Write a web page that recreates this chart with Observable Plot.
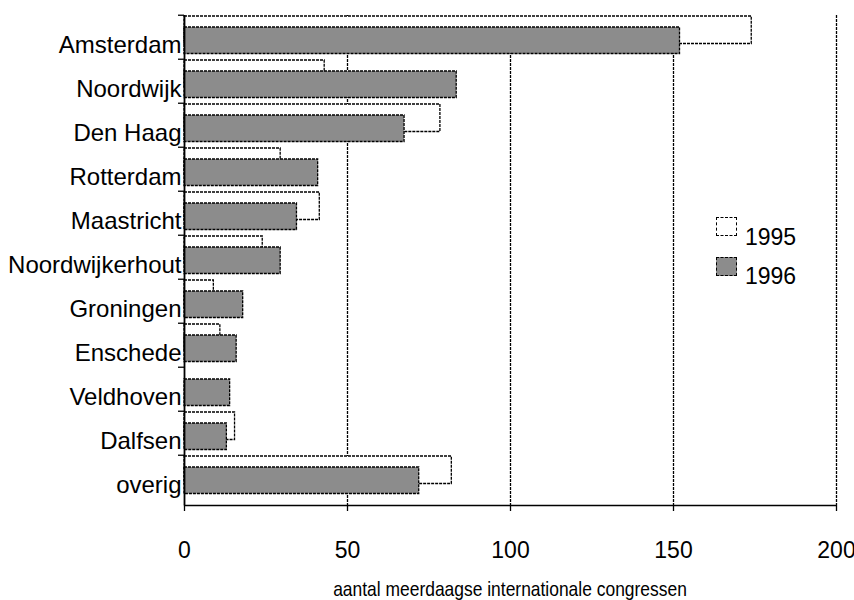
<!DOCTYPE html>
<html>
<head>
<meta charset="utf-8">
<script src="https://cdn.jsdelivr.net/npm/d3@7"></script>
<script src="https://cdn.jsdelivr.net/npm/@observablehq/plot@0.6"></script>
<style>
  html, body { margin: 0; padding: 0; background: #fff; overflow: hidden; }
  #wrap { position: relative; width: 854px; height: 600px; font-family: "Liberation Sans", Arial, sans-serif; color: #000; }
  #wrap svg { position: absolute; left: 0; top: 0; }
  .lg-box { position: absolute; width: 19px; height: 17px; border: 1.3px dashed #000; box-sizing: content-box; }
  .lg-text { position: absolute; font-size: 23px; line-height: 23px; }
  #title { position: absolute; left: 0; width: 1020px; text-align: center; font-size: 21px; line-height: 21px; top: 577.5px; white-space: nowrap; transform: scaleX(0.83); transform-origin: 510px 0; }
</style>
</head>
<body>
<div id="wrap"></div>
<script>
const cities = ["Amsterdam","Noordwijk","Den Haag","Rotterdam","Maastricht","Noordwijkerhout","Groningen","Enschede","Veldhoven","Dalfsen","overig"];
const v1995 = [174, 43, 78.5, 29.5, 41.5, 24, 9, 11, 0, 15.5, 82];
const v1996 = [152, 83.5, 67.5, 41, 34.5, 29.5, 18, 16, 14, 13, 72];
const xTicks = [0, 50, 100, 150, 200];
const years = ["1995", "1996"];
const axisTitle = "aantal meerdaagse internationale congressen";

const d95 = cities.map((c, i) => ({city: c, value: v1995[i]}));
const d96 = cities.map((c, i) => ({city: c, value: v1996[i]}));

const W = 854, H = 600, mt = 15, mb = 95;
const band = (H - mt - mb) / cities.length;
const dash = "3,1";
const sw = 1.3;

const chart = Plot.plot({
  width: W,
  height: H,
  marginLeft: 184,
  marginRight: 18,
  marginTop: mt,
  marginBottom: mb,
  style: {fontFamily: '"Liberation Sans", Arial, sans-serif', color: "#000", background: "#fff", overflow: "visible"},
  x: {domain: [0, 200], ticks: xTicks},
  y: {domain: cities, padding: 0, align: 0},
  marks: [
    Plot.gridX(xTicks.slice(1), {stroke: "#000", strokeOpacity: 1, strokeWidth: sw, strokeDasharray: dash}),
    Plot.barX(d95, {x: "value", y: "city", fill: "#fff", stroke: "#000", strokeWidth: sw, strokeDasharray: dash, insetTop: 1, insetBottom: 15.5}),
    Plot.barX(d96, {x: "value", y: "city", fill: "#8c8c8c", stroke: "#000", strokeWidth: sw, strokeDasharray: dash, insetTop: 12, insetBottom: 5.5}),
    Plot.ruleX([0], {stroke: "#000", strokeWidth: 1.8}),
    Plot.frame({anchor: "bottom", stroke: "#000", strokeWidth: sw, strokeDasharray: dash}),
    Plot.axisX(xTicks, {tickSize: 6, tickPadding: 30, fontSize: 23, label: null, stroke: "#000", strokeWidth: sw}),
    Plot.axisY({tickSize: 6, text: null, dy: -band / 2, stroke: "#000", strokeWidth: sw, label: null}),
    Plot.axisY({tickSize: 0, tickPadding: 3, fontSize: 24, dy: 8, label: null})
  ]
});

const wrap = document.getElementById("wrap");
wrap.appendChild(chart);

// legend
const legend = [
  {label: years[0], fill: "#fff", top: 217, tb: 226},
  {label: years[1], fill: "#8c8c8c", top: 257, tb: 265}
];
legend.forEach(l => {
  const b = document.createElement("div");
  b.className = "lg-box";
  b.style.left = "716px";
  b.style.top = l.top + "px";
  b.style.background = l.fill;
  wrap.appendChild(b);
  const t = document.createElement("div");
  t.className = "lg-text";
  t.style.left = "745px";
  t.style.top = l.tb + "px";
  t.textContent = l.label;
  wrap.appendChild(t);
});

const title = document.createElement("div");
title.id = "title";
title.textContent = axisTitle;
wrap.appendChild(title);
</script>
</body>
</html>
